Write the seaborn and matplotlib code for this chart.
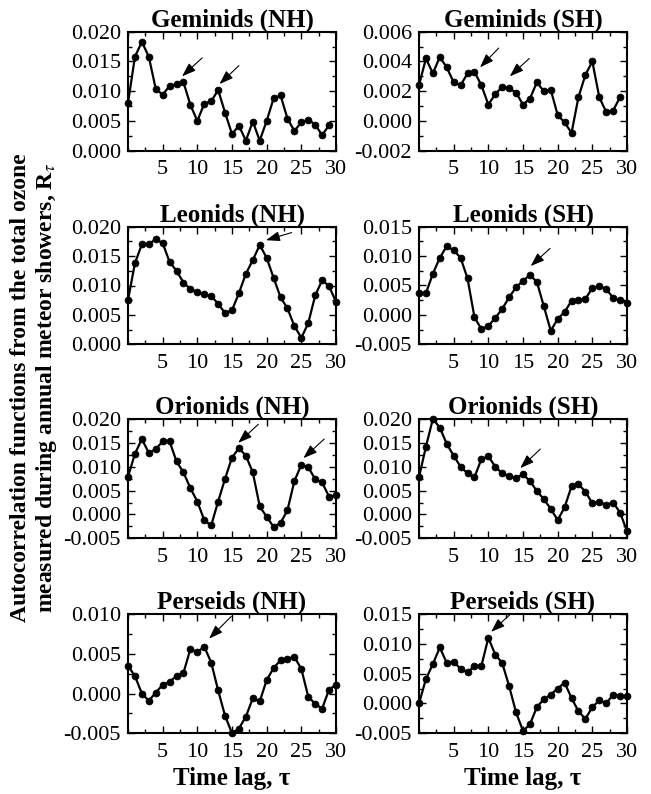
import matplotlib
matplotlib.use("Agg")
import matplotlib.pyplot as plt
import seaborn as sns
import numpy as np
from matplotlib.ticker import MultipleLocator, FormatStrFormatter

# ---------------- data ----------------
titles = ["Geminids (NH)", "Geminids (SH)", "Leonids (NH)", "Leonids (SH)",
          "Orionids (NH)", "Orionids (SH)", "Perseids (NH)", "Perseids (SH)"]

geminids_nh = [0.0080, 0.0158, 0.0183, 0.0158, 0.0104, 0.0094, 0.0109, 0.0112, 0.0115, 0.0077,
               0.0050, 0.0079, 0.0083, 0.0102, 0.0064, 0.0028, 0.0042, 0.0017, 0.0049, 0.0017,
               0.0050, 0.0088, 0.0093, 0.0054, 0.0033, 0.0048, 0.0052, 0.0044, 0.0026, 0.0043]
geminids_sh = [0.0024, 0.0042, 0.0032, 0.0043, 0.0036, 0.0026, 0.0024, 0.0032, 0.0033, 0.0024,
               0.0011, 0.0018, 0.0023, 0.0022, 0.0019, 0.0011, 0.0015, 0.0026, 0.0020, 0.0021,
               0.0004, -0.0001, -0.0008, 0.0016, 0.0031, 0.0040, 0.0016, 0.0006, 0.0007, 0.0016]
leonids_nh = [0.0075, 0.0138, 0.0170, 0.0170, 0.0179, 0.0172, 0.0140, 0.0125, 0.0105, 0.0094,
              0.0089, 0.0085, 0.0082, 0.0069, 0.0053, 0.0058, 0.0087, 0.0120, 0.0143, 0.0169,
              0.0147, 0.0113, 0.0080, 0.0061, 0.0031, 0.0011, 0.0036, 0.0083, 0.0109, 0.0099,
              0.0072]
leonids_sh = [0.0038, 0.0037, 0.0070, 0.0097, 0.0117, 0.0110, 0.0097, 0.0062, -0.0004, -0.0024,
              -0.0019, -0.0005, 0.0010, 0.0030, 0.0047, 0.0058, 0.0068, 0.0056, 0.0015, -0.0027,
              -0.0007, 0.0005, 0.0024, 0.0026, 0.0027, 0.0046, 0.0049, 0.0044, 0.0029, 0.0025,
              0.0021]
orionids_nh = [0.0079, 0.0127, 0.0158, 0.0129, 0.0137, 0.0153, 0.0153, 0.0111, 0.0088, 0.0055,
               0.0027, -0.0012, -0.0023, 0.0027, 0.0075, 0.0119, 0.0139, 0.0123, 0.0088, 0.0017,
               -0.0005, -0.0026, -0.0018, 0.0009, 0.0070, 0.0104, 0.0099, 0.0074, 0.0067, 0.0037,
               0.0040]
orionids_sh = [0.0078, 0.0142, 0.0200, 0.0182, 0.0148, 0.0123, 0.0100, 0.0086, 0.0078, 0.0116,
               0.0122, 0.0100, 0.0086, 0.0080, 0.0076, 0.0084, 0.0070, 0.0049, 0.0032, 0.0012,
               -0.0012, 0.0015, 0.0059, 0.0063, 0.0048, 0.0023, 0.0026, 0.0020, 0.0025, 0.0004,
               -0.0035]
perseids_nh = [0.0035, 0.0022, 0.0000, -0.0009, 0.0001, 0.0011, 0.0015, 0.0022, 0.0026, 0.0056,
               0.0052, 0.0059, 0.0039, 0.0004, -0.0028, -0.0050, -0.0044, -0.0029, -0.0006, -0.0010,
               0.0017, 0.0032, 0.0042, 0.0044, 0.0046, 0.0031, -0.0004, -0.0013, -0.0019, 0.0005,
               0.0011]
perseids_sh = [0.0000, 0.0041, 0.0066, 0.0094, 0.0068, 0.0070, 0.0058, 0.0052, 0.0063, 0.0063,
               0.0110, 0.0082, 0.0068, 0.0029, -0.0015, -0.0046, -0.0035, -0.0006, 0.0007, 0.0015,
               0.0025, 0.0035, 0.0009, -0.0013, -0.0026, -0.0006, 0.0005, 0.0000, 0.0015, 0.0012,
               0.0012]
series = [geminids_nh, geminids_sh, leonids_nh, leonids_sh,
          orionids_nh, orionids_sh, perseids_nh, perseids_sh]

y_limits = [(0.0, 0.020), (-0.002, 0.006), (0.0, 0.020), (-0.005, 0.015),
            (-0.005, 0.020), (-0.005, 0.020), (-0.005, 0.010), (-0.005, 0.015)]
y_steps = [0.005, 0.002, 0.005, 0.005, 0.005, 0.005, 0.005, 0.005]
x_ticks = [5, 10, 15, 20, 25, 30]

# arrows: (tail, head) in data coordinates
arrows = [
    [((10.7, 0.0156), (7.8, 0.0125)), ((16.0, 0.0143), (13.2, 0.0112))],
    [((11.5, 0.0049), (8.8, 0.0036)), ((15.9, 0.0042), (13.1, 0.0030))],
    [((23.6, 0.0190), (19.9, 0.0177))],
    [((18.9, 0.0113), (16.1, 0.0083))],
    [((18.8, 0.0189), (15.9, 0.0150)), ((28.3, 0.0158), (25.3, 0.0118))],
    [((17.5, 0.0137), (14.6, 0.0097))],
    [((14.9, 0.0097), (11.7, 0.0069))],
    [((13.3, 0.0151), (10.4, 0.0120))],
]

# ---------------- style ----------------
sns.set_theme(style="ticks")
plt.rcParams["font.family"] = ["Liberation Serif", "DejaVu Serif"]
plt.rcParams["mathtext.fontset"] = "stix"
plt.rcParams["axes.unicode_minus"] = False
plt.rcParams["text.color"] = "black"
plt.rcParams["axes.labelcolor"] = "black"
plt.rcParams["xtick.color"] = "black"
plt.rcParams["ytick.color"] = "black"
plt.rcParams["axes.edgecolor"] = "black"

fig = plt.figure(figsize=(6.51, 7.94), dpi=100)

W, H = 651.0, 794.0
col_left = [128.0, 419.0]
col_w = 208.0
row_tb = [(31.7, 150.7), (226.7, 344.3), (419.0, 538.3), (614.0, 733.3)]

for i, vals in enumerate(series):
    r, c = divmod(i, 2)
    top, bot = row_tb[r]
    ax = fig.add_axes([col_left[c] / W, 1 - bot / H, col_w / W, (bot - top) / H])
    lags = np.arange(len(vals))
    sns.lineplot(x=lags, y=vals, ax=ax, color="black", marker="o",
                 markersize=5.0, markeredgecolor="black", markeredgewidth=0.5,
                 linewidth=1.6, clip_on=False, zorder=3)
    ax.set_xlim(0, 30)
    lo, hi = y_limits[i]
    ax.set_ylim(lo, hi)
    ax.set_xticks(x_ticks)
    ax.xaxis.set_minor_locator(MultipleLocator(2.5))
    ax.set_yticks(np.arange(lo, hi + 1e-9, y_steps[i]))
    ax.yaxis.set_minor_locator(MultipleLocator(y_steps[i] / 2))
    ax.yaxis.set_major_formatter(FormatStrFormatter("%.3f"))
    ax.tick_params(which="both", direction="in", top=True, right=True,
                   labelsize=16, width=1.0, colors="black", labelcolor="black")
    ax.tick_params(which="major", length=5)
    ax.tick_params(axis="x", which="major", pad=7)
    ax.tick_params(axis="y", which="major", pad=5)
    ax.tick_params(which="minor", length=3)
    for s in ax.spines.values():
        s.set_linewidth(1.5)
        s.set_color("black")
    ax.set_title(titles[i], fontsize=18, fontweight="bold", pad=3, color="black")
    for tail, head in arrows[i]:
        ax.annotate("", xy=head, xytext=tail, annotation_clip=False,
                    arrowprops=dict(arrowstyle="-|>,head_length=0.7,head_width=0.25",
                                    color="black", lw=0.8, shrinkA=0, shrinkB=0))
    ax.set_xlabel("")
    ax.set_ylabel("")

fig.text(0.053, 0.512,
         "Autocorrelation functions from the total ozone\n"
         r"measured during annual meteor showers, R$_\tau$",
         rotation=90, ha="center", va="center", fontsize=17, fontweight="bold",
         linespacing=1.12, color="black")
for c in range(2):
    fig.text((col_left[c] + col_w / 2) / W, 1 - 778 / H, "Time lag, τ",
             ha="center", va="center", fontsize=18, fontweight="bold", color="black")

fig.savefig("out.png", dpi=100)
